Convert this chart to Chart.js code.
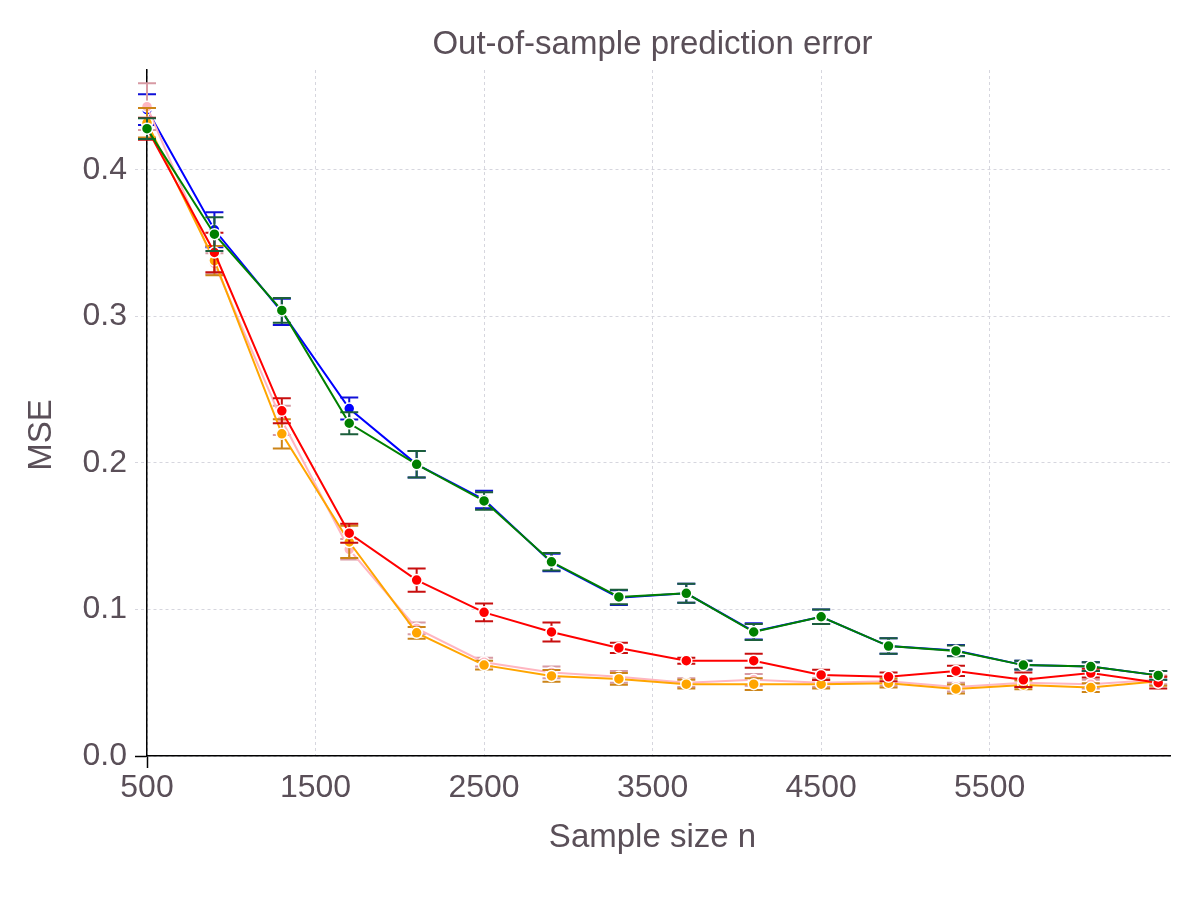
<!DOCTYPE html>
<html>
<head>
<meta charset="utf-8">
<script src="https://cdn.jsdelivr.net/npm/chart.js@4.4.1/dist/chart.umd.min.js"></script>
<style>
  html, body { margin: 0; padding: 0; background: #ffffff; }
  #wrap { width: 1200px; height: 900px; }
</style>
</head>
<body>
<div id="wrap"><canvas id="c" width="1200" height="900"></canvas></div>
<script>
// ---- Data ----
const sampleSizes = [500, 900, 1300, 1700, 2100, 2500, 2900, 3300, 3700, 4100, 4500, 4900, 5300, 5700, 6100, 6500];
const xTickValues = [500, 1500, 2500, 3500, 4500, 5500];
const yTickValues = [0.0, 0.1, 0.2, 0.3, 0.4];

const blueMSE   = [0.441, 0.359, 0.303, 0.237, 0.199, 0.175, 0.132, 0.108, 0.111, 0.085, 0.095, 0.075, 0.072, 0.062, 0.061, 0.055];
const blueErr   = [0.0105, 0.012, 0.009, 0.0075, 0.009, 0.006, 0.006, 0.005, 0.0065, 0.0055, 0.005, 0.0053, 0.0037, 0.003, 0.003, 0.003];

const greenMSE  = [0.428, 0.356, 0.304, 0.227, 0.199, 0.174, 0.1325, 0.1085, 0.111, 0.0846, 0.095, 0.075, 0.0717, 0.062, 0.061, 0.055];
const greenErr  = [0.007, 0.0115, 0.0085, 0.0075, 0.009, 0.006, 0.006, 0.005, 0.0065, 0.0055, 0.005, 0.0053, 0.0037, 0.003, 0.003, 0.003];

const redMSE    = [0.428, 0.3435, 0.2355, 0.152, 0.120, 0.098, 0.0846, 0.0737, 0.065, 0.065, 0.0553, 0.054, 0.058, 0.052, 0.0566, 0.050];
const redErr    = [0.0075, 0.0135, 0.0085, 0.0065, 0.008, 0.006, 0.0065, 0.0035, 0.002, 0.0048, 0.0035, 0.003, 0.0035, 0.005, 0.003, 0.004];

const pinkMSE   = [0.443, 0.336, 0.229, 0.141, 0.087, 0.064, 0.057, 0.054, 0.050, 0.052, 0.050, 0.051, 0.047, 0.050, 0.049, 0.052];
const pinkErr   = [0.016, 0.007, 0.010, 0.007, 0.004, 0.003, 0.004, 0.004, 0.003, 0.004, 0.003, 0.003, 0.003, 0.003, 0.003, 0.003];

const orangeMSE = [0.432, 0.338, 0.2198, 0.146, 0.084, 0.062, 0.0546, 0.0526, 0.049, 0.049, 0.049, 0.0497, 0.0457, 0.0485, 0.0467, 0.051];
const orangeErr = [0.010, 0.010, 0.010, 0.011, 0.004, 0.003, 0.004, 0.004, 0.003, 0.004, 0.003, 0.003, 0.003, 0.003, 0.003, 0.003];

const chartTitle = 'Out-of-sample prediction error';
const xTitle = 'Sample size n';
const yTitle = 'MSE';

// ---- Styling ----
const FONT = '"Liberation Sans", Helvetica, Arial, sans-serif';
const TEXT = '#5a4f58';
const GRID = '#d6d6de';

function toPoints(values) {
  return sampleSizes.map((x, i) => ({ x: x, y: values[i] }));
}

function makeSeries(label, values, errs, color, errColor) {
  return {
    label: label,
    data: toPoints(values),
    errors: errs,
    errorColor: errColor,
    borderColor: color,
    backgroundColor: color,
    borderWidth: 2,
    pointRadius: 5.5,
    pointHoverRadius: 5.5,
    pointBackgroundColor: color,
    pointBorderColor: '#ffffff',
    pointBorderWidth: 1.5,
    tension: 0,
    fill: false,
    clip: false
  };
}

const errorBarPlugin = {
  id: 'errorBars',
  beforeDatasetDraw(chart, args) {
    const ds = chart.data.datasets[args.index];
    if (!ds.errors) return;
    const yScale = chart.scales.y;
    const ctx = chart.ctx;
    ctx.save();
    ctx.strokeStyle = ds.errorColor;
    ctx.lineWidth = 2;
    args.meta.data.forEach((pt, i) => {
      const v = ds.data[i].y;
      const e = ds.errors[i];
      const x = pt.x;
      const yTop = yScale.getPixelForValue(v + e);
      const yBot = yScale.getPixelForValue(v - e);
      ctx.beginPath();
      ctx.moveTo(x, yTop); ctx.lineTo(x, yBot);
      ctx.moveTo(x - 9, yTop); ctx.lineTo(x + 9, yTop);
      ctx.moveTo(x - 9, yBot); ctx.lineTo(x + 9, yBot);
      ctx.stroke();
    });
    ctx.restore();
  }
};

// Chart title and axis titles
const titlesPlugin = {
  id: 'titles',
  afterDraw(chart) {
    const a = chart.chartArea;
    const cx = (a.left + a.right) / 2 - 6;
    const ctx = chart.ctx;
    ctx.save();
    ctx.fillStyle = TEXT;
    ctx.textAlign = 'center';
    ctx.textBaseline = 'middle';
    ctx.font = '33px ' + FONT;
    ctx.fillText(chartTitle, cx, 45);
    ctx.font = '33px ' + FONT;
    ctx.fillText(xTitle, cx, 838);
    ctx.translate(42, (a.top + a.bottom) / 2 + 22);
    ctx.rotate(-Math.PI / 2);
    ctx.fillText(yTitle, 0, 0);
    ctx.restore();
  }
};

// index 0 is drawn on top
const datasets = [
  makeSeries('green',  greenMSE,  greenErr,  '#008000', '#1b5e3b'),
  makeSeries('red',    redMSE,    redErr,    '#ff0000', '#c80f0f'),
  makeSeries('orange', orangeMSE, orangeErr, '#ffa500', '#cc8418'),
  makeSeries('pink',   pinkMSE,   pinkErr,   '#ffb6c1', '#d79aa4'),
  makeSeries('blue',   blueMSE,   blueErr,   '#0000ff', '#1010d8')
];

new Chart(document.getElementById('c'), {
  type: 'line',
  data: { datasets: datasets },
  plugins: [errorBarPlugin, titlesPlugin],
  options: {
    responsive: false,
    animation: false,
    events: [],
    layout: { padding: { left: 0, right: 30, top: 70, bottom: 0 } },
    plugins: {
      legend: { display: false },
      tooltip: { enabled: false },
      title: { display: false }
    },
    scales: {
      x: {
        type: 'linear',
        min: 500,
        max: 6570,
        afterBuildTicks: (s) => { s.ticks = xTickValues.map(v => ({ value: v })); },
        afterFit: (s) => { s.height = 144; },
        ticks: {
          color: TEXT,
          font: { family: FONT, size: 32 },
          padding: 1,
          maxRotation: 0,
          autoSkip: false,
          callback: (v) => String(v)
        },
        grid: {
          color: GRID,
          lineWidth: 1,
          drawTicks: true,
          tickLength: 12,
          tickColor: (c) => (c.tick && c.tick.value === 500) ? '#000000' : 'rgba(0,0,0,0)',
          tickWidth: 1.5,
          tickBorderDash: []
        },
        border: { display: true, color: '#000000', width: 1.5, dash: [3, 3] },
        title: { display: false }
      },
      y: {
        type: 'linear',
        min: 0,
        max: 0.468,
        afterBuildTicks: (s) => { s.ticks = yTickValues.map(v => ({ value: v })); },
        afterFit: (s) => { s.width = 147; },
        ticks: {
          color: TEXT,
          font: { family: FONT, size: 32 },
          padding: 8,
          autoSkip: false,
          callback: (v) => Number(v).toFixed(1)
        },
        grid: {
          color: GRID,
          lineWidth: 1,
          drawTicks: true,
          tickLength: 12,
          tickColor: (c) => (c.tick && c.tick.value === 0) ? '#000000' : GRID,
          tickWidth: (c) => (c.tick && c.tick.value === 0) ? 1.5 : 1,
          tickBorderDash: (c) => (c.tick && c.tick.value === 0) ? [] : [3, 3]
        },
        border: { display: true, color: '#000000', width: 1.5, dash: [3, 3] },
        title: { display: false }
      }
    }
  }
});
</script>
</body>
</html>
